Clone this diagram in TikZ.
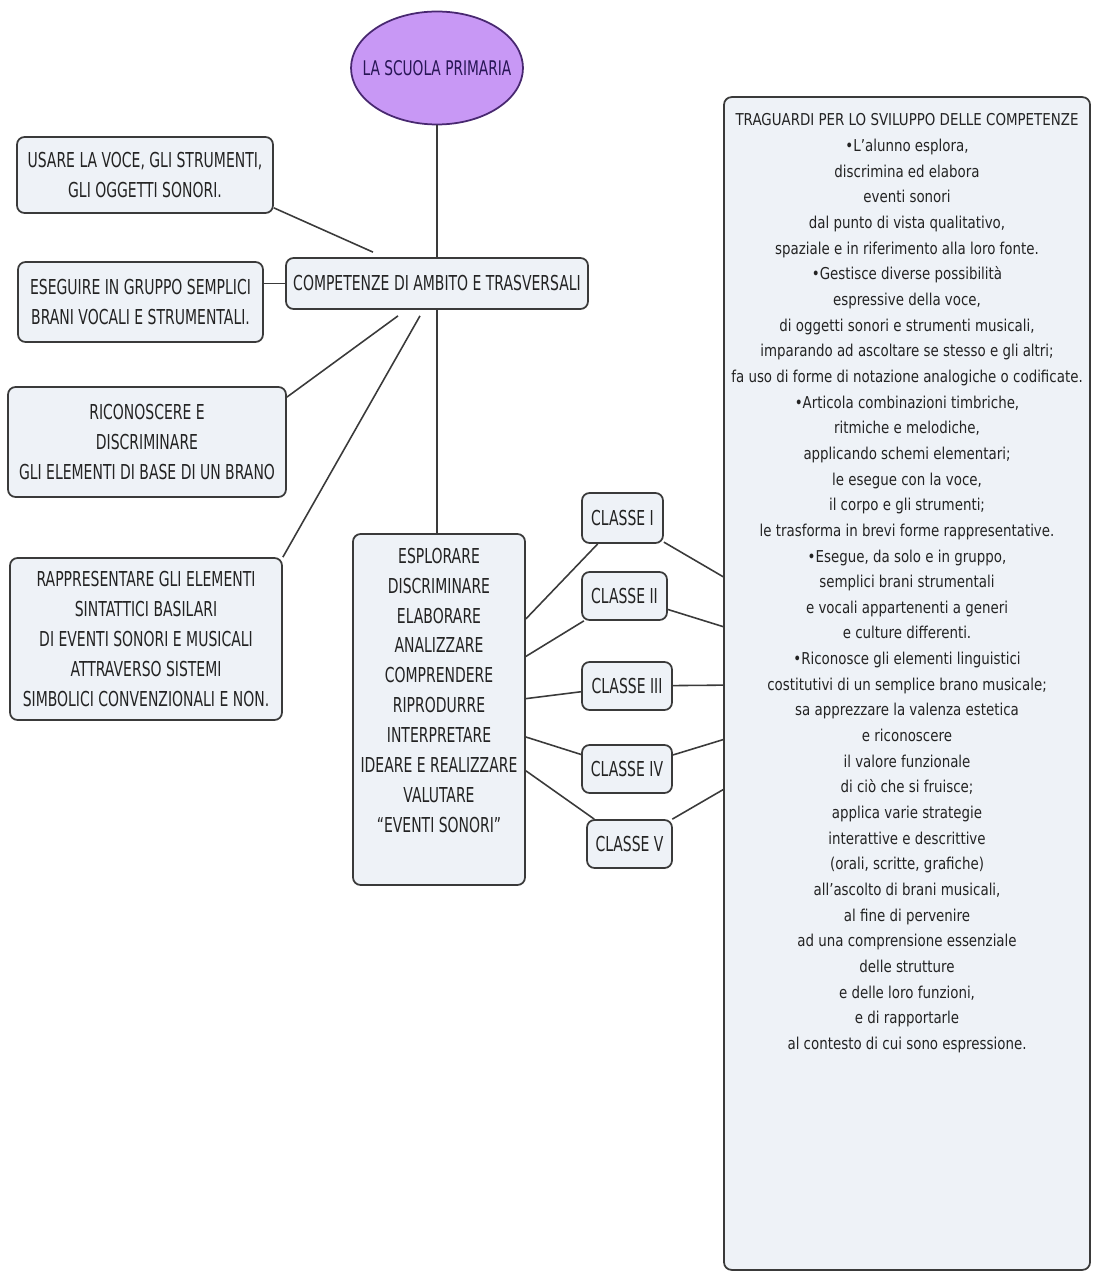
\documentclass[tikz,border=0pt]{standalone}
\usepackage{fontspec}
\setmainfont{DejaVu Sans}[FakeStretch=0.82]
\newfontfamily\capsfont{DejaVu Sans}[FakeStretch=0.68]
\usepackage{tikz}
\usetikzlibrary{calc,shapes.geometric}
\definecolor{boxfill}{RGB}{238,242,247}
\definecolor{boxline}{RGB}{58,58,58}
\definecolor{testo}{RGB}{35,35,35}
\definecolor{lilla}{RGB}{200,152,245}
\definecolor{lillaline}{RGB}{72,40,112}
\definecolor{lillatesto}{RGB}{40,22,85}

\begin{document}
\begin{tikzpicture}[x=0.02cm, y=-0.02cm,
  box/.style={draw=boxline, fill=boxfill, line width=1pt, rounded corners=0.15cm, align=center, inner sep=2pt, text=testo, font=\capsfont\fontsize{11.7}{17}\selectfont},
  link/.style={draw=boxline, line width=0.9pt}]
  \useasboundingbox (0,0) rectangle (1096,1283);

  \node[draw=lillaline, fill=lilla, ellipse, line width=1pt, minimum width=3.44cm, minimum height=2.26cm, inner sep=0pt, text=lillatesto, font=\capsfont\fontsize{11.5}{13}\selectfont] (scuola) at (437,68) {\makebox[0pt]{LA SCUOLA PRIMARIA}};
  \node[box, minimum width=6.04cm, minimum height=1.02cm] (comp) at (437,283.5) {COMPETENZE DI AMBITO E TRASVERSALI};
  \node[box, minimum width=5.12cm, minimum height=1.52cm] (usare) at (145,175) {USARE LA VOCE, GLI STRUMENTI,\\GLI OGGETTI SONORI.};
  \node[box, minimum width=4.9cm, minimum height=1.6cm] (eseguire) at (140.5,302) {ESEGUIRE IN GRUPPO SEMPLICI\\BRANI VOCALI E STRUMENTALI.};
  \node[box, minimum width=5.56cm, minimum height=2.2cm] (riconoscere) at (147,442) {RICONOSCERE E\\DISCRIMINARE\\GLI ELEMENTI DI BASE DI UN BRANO};
  \node[box, minimum width=5.44cm, minimum height=3.24cm] (rappresentare) at (146,639) {RAPPRESENTARE GLI ELEMENTI\\SINTATTICI BASILARI\\DI EVENTI SONORI E MUSICALI\\ATTRAVERSO SISTEMI\\SIMBOLICI CONVENZIONALI E NON.};
  \node[box, inner sep=0pt] (esplora) at (439,709.5) {\parbox[c][7.02cm][t]{3.44cm}{\centering\vspace*{8pt}ESPLORARE\\DISCRIMINARE\\ELABORARE\\ANALIZZARE\\COMPRENDERE\\RIPRODURRE\\INTERPRETARE\\IDEARE E REALIZZARE\\VALUTARE\\“EVENTI SONORI”}};

  \node[box, minimum width=1.62cm, minimum height=1cm] (classe 1) at (622.5,518) {CLASSE I};
  \node[box, minimum width=1.7cm, minimum height=0.96cm] (classe 2) at (624.5,596) {CLASSE II};
  \node[box, minimum width=1.8cm, minimum height=0.96cm] (classe 3) at (627,686) {CLASSE III};
  \node[box, minimum width=1.8cm, minimum height=0.96cm] (classe 4) at (627,769) {CLASSE IV};
  \node[box, minimum width=1.7cm, minimum height=0.96cm] (classe 5) at (629.5,844) {CLASSE V};

  \node[box, inner sep=0pt, font=\normalfont\fontsize{9.3}{14.6}\selectfont] (traguardi) at (907,683.5) {\parbox[c][23.46cm][t]{7.32cm}{\centering\vspace*{9.5pt}TRAGUARDI PER LO SVILUPPO DELLE COMPETENZE\\
    •L'alunno esplora,\\
    discrimina ed elabora\\
    eventi sonori\\
    dal punto di vista qualitativo,\\
    spaziale e in riferimento alla loro fonte.\\
    •Gestisce diverse possibilità\\
    espressive della voce,\\
    di oggetti sonori e strumenti musicali,\\
    imparando ad ascoltare se stesso e gli altri;\\
    fa uso di forme di notazione analogiche o codificate.\\
    •Articola combinazioni timbriche,\\
    ritmiche e melodiche,\\
    applicando schemi elementari;\\
    le esegue con la voce,\\
    il corpo e gli strumenti;\\
    le trasforma in brevi forme rappresentative.\\
    •Esegue, da solo e in gruppo,\\
    semplici brani strumentali\\
    e vocali appartenenti a generi\\
    e culture differenti.\\
    •Riconosce gli elementi linguistici\\
    costitutivi di un semplice brano musicale;\\
    sa apprezzare la valenza estetica\\
    e riconoscere\\
    il valore funzionale\\
    di ciò che si fruisce;\\
    applica varie strategie\\
    interattive e descrittive\\
    (orali, scritte, grafiche)\\
    all'ascolto di brani musicali,\\
    al fine di pervenire\\
    ad una comprensione essenziale\\
    delle strutture\\
    e delle loro funzioni,\\
    e di rapportarle\\
    al contesto di cui sono espressione.}};

  \draw[link] (scuola) -- (comp);
  \draw[link] (comp.south) -- (comp.south |- esplora.north);
  \draw[link] ($(usare.south east)+(0,-6)$) -- ($(comp.north)+(-64,-5)$);
  \draw[link] (comp.west) -- (comp.west -| eseguire.east);
  \draw[link] ($(riconoscere.north east)+(0,11)$) -- ($(comp.south)+(-39,6)$);
  \draw[link] (rappresentare.north east) -- ($(comp.south)+(-17,6)$);
  \draw[link] (esplora) -- (classe 1);
  \draw[link] (esplora) -- (classe 2);
  \draw[link] (esplora) -- (classe 3);
  \draw[link] (esplora) -- (classe 4);
  \draw[link] (esplora) -- (classe 5);
  \draw[link] (classe 1) -- (traguardi);
  \draw[link] (classe 2) -- (traguardi);
  \draw[link] (classe 3) -- (traguardi);
  \draw[link] (classe 4) -- (traguardi);
  \draw[link] (classe 5) -- (traguardi);
\end{tikzpicture}
\end{document}
